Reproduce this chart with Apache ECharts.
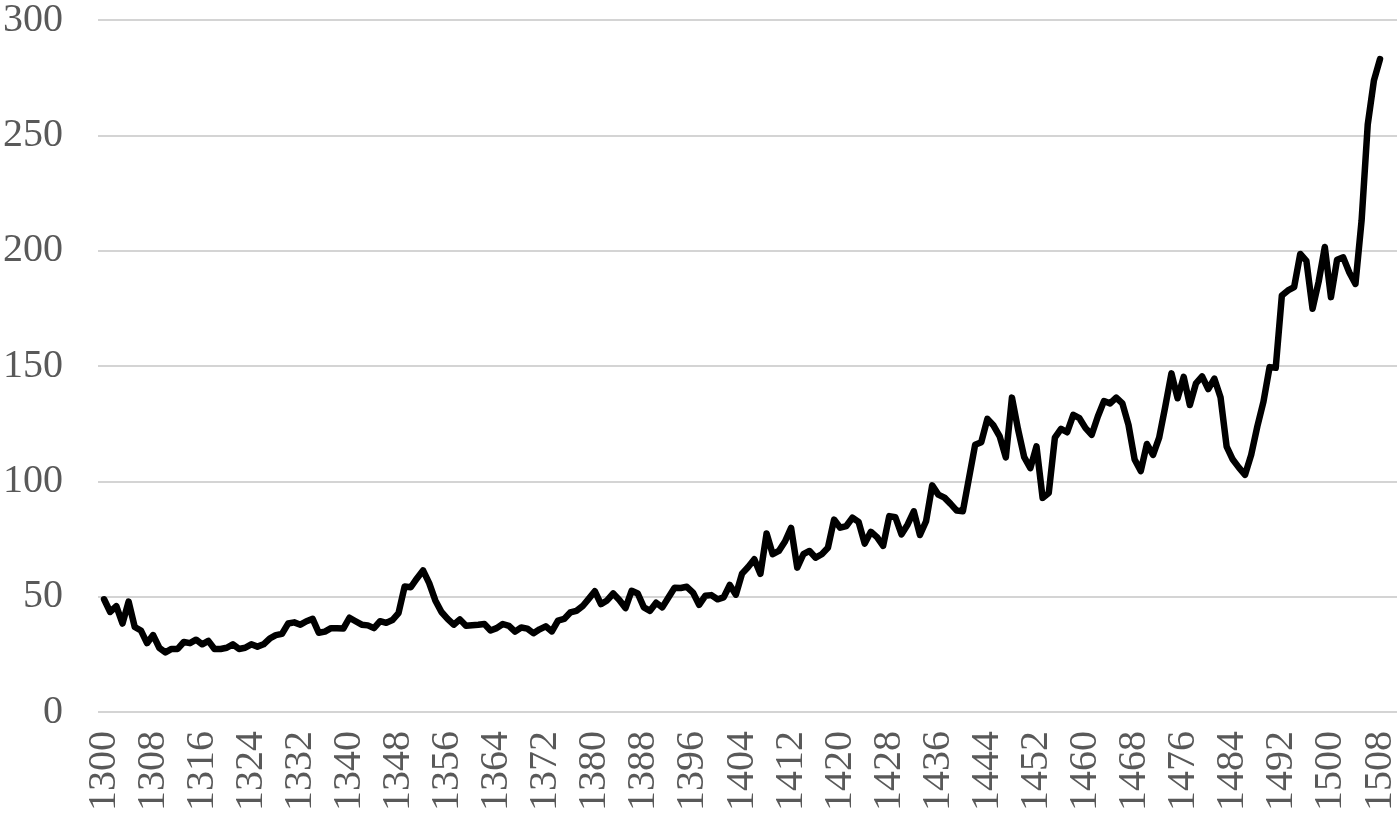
<!DOCTYPE html>
<html>
<head>
<meta charset="utf-8">
<script src="https://cdn.jsdelivr.net/npm/echarts@6/dist/echarts.min.js"></script>
<style>html,body{margin:0;padding:0;background:#fff;}#c{width:1400px;height:814px;}</style>
</head>
<body>
<div id="c"></div>
<script>
const startYear = 1300;
const values = [
47.5,42,44.5,37,46.5,35.5,34,28.5,32,26.5,
24.5,26,26,29,28.5,30,28,29.5,26,26,
26.5,28,26,26.5,28,27,28,30.5,32,32.5,
37,37.5,36.5,38,39,33,33.5,35,35,34.8,
39.5,38,36.5,36.2,35,38,37.3,38.5,41.5,53,
52.7,56.5,60,54.5,47,42,39,36.5,38.8,36,
36.3,36.5,36.8,34,35,36.8,36,33.5,35.3,34.8,
32.8,34.5,35.8,33.6,38.3,39,41.8,42.5,44.5,47.7,
51,45.4,47,50,47.2,43.7,51.2,50,44,42.5,
46,44,48.3,52.5,52.4,52.9,50.4,45.1,49,49.3,
47.5,48.3,53.7,49.5,58.6,61.5,64.8,58.5,76,67,
68.4,72.5,78.4,61.2,67,68.4,65.5,67,69.8,82,
78.5,79.2,82.8,81,71.6,76.7,74.4,70.6,83.5,83,
75.6,79.9,85.6,75.3,81.3,96.8,92.8,91.5,88.8,85.9,
85.6,100,114.4,115.5,125.6,122.7,118,108.9,134.8,121,
109,104.3,113.7,91.4,93.5,117.5,121.3,119.8,127.3,125.9,
121.6,118.7,126.6,133.3,132.3,134.8,132.3,123,108,103,
114.7,110,117.5,131,145.3,134.5,143.8,131.6,141,144,
138.5,143,135,113.6,108,104.5,101.4,110,122.3,133,
148,147.7,179,181.2,182.6,197,194,173.3,185,200,
178.3,194.5,195.5,189,184,211.5,253,272,281.3
];
const years = values.map((v, i) => String(startYear + i));
const yTicks = [0, 50, 100, 150, 200, 250, 300];

const font = "'Liberation Serif', 'Times New Roman', serif";
const chart = echarts.init(document.getElementById('c'), null, {renderer: 'canvas'});
chart.setOption({
  animation: false,
  backgroundColor: '#ffffff',
  grid: [
    {left: 97, right: 3, top: 16, bottom: 102},
    {left: 101, right: 14, top: 16, bottom: 102}
  ],
  xAxis: [
    {gridIndex: 0, type: 'category', data: years, show: false},
    {
      gridIndex: 1, type: 'category', data: years, boundaryGap: true,
      axisLine: {show: false}, axisTick: {show: false},
      axisLabel: {
        interval: 7, rotate: 90, margin: 22,
        fontFamily: font, fontSize: 40, color: '#595959'
      }
    }
  ],
  yAxis: [
    {
      gridIndex: 0, type: 'value', min: yTicks[0], max: yTicks[yTicks.length - 1], interval: 50,
      axisLine: {show: false}, axisTick: {show: false},
      splitLine: {show: true, lineStyle: {color: '#d4d4d4', width: 2}},
      axisLabel: {margin: 35, fontFamily: font, fontSize: 40, color: '#595959'}
    },
    {
      gridIndex: 1, type: 'value', min: yTicks[0], max: yTicks[yTicks.length - 1], interval: 50,
      show: false, splitLine: {show: false}
    }
  ],
  series: [{
    type: 'line', xAxisIndex: 1, yAxisIndex: 1, data: values,
    showSymbol: false, symbol: 'none',
    lineStyle: {color: '#000000', width: 6.5, cap: 'round', join: 'round'}
  }]
});
</script>
</body>
</html>
